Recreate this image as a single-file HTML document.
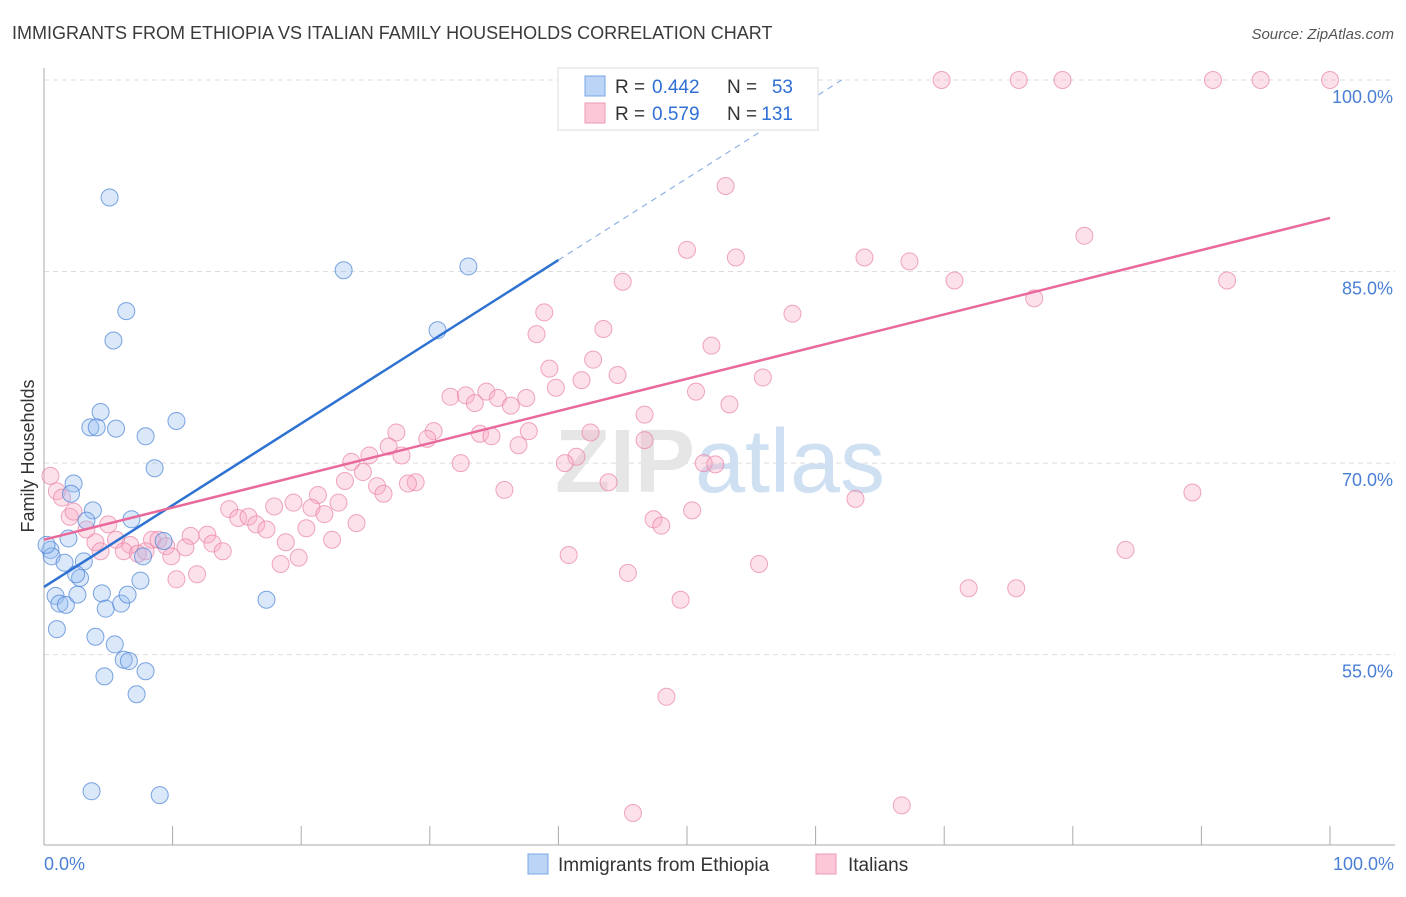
<!DOCTYPE html>
<html><head><meta charset="utf-8"><style>
body{margin:0;background:#fff;font-family:"Liberation Sans",sans-serif;}
svg text{font-family:"Liberation Sans",sans-serif;}
</style></head><body>
<svg id="chart" width="1406" height="892" viewBox="0 0 1406 892" xmlns="http://www.w3.org/2000/svg">
<text x="12" y="39" font-size="18" fill="#3a3a3a">IMMIGRANTS FROM ETHIOPIA VS ITALIAN FAMILY HOUSEHOLDS CORRELATION CHART</text>
<text x="1394" y="39" font-size="15" fill="#555" text-anchor="end" font-style="italic">Source: ZipAtlas.com</text>
<g id="grid"></g>
<text x="720" y="492" font-size="90" text-anchor="middle" fill="#e6e6e6" font-weight="bold">ZIP<tspan fill="#cfe0f3" font-weight="normal">atlas</tspan></text>
<g id="pink"></g>
<g id="blue"></g>
<g id="lines"></g>
<text transform="translate(34,456) rotate(-90)" font-size="18" fill="#333" text-anchor="middle">Family Households</text>
<text x="44" y="870" font-size="18" fill="#4a7fd4">0.0%</text>
<text x="1394" y="870" font-size="18" fill="#4a7fd4" text-anchor="end">100.0%</text>
<g>
<rect x="558" y="68" width="260" height="62" fill="#fff" stroke="#ddd"/>
<rect x="585" y="76" width="20" height="20" fill="#bcd4f5" stroke="#7aa6e6"/>
<rect x="585" y="103" width="20" height="20" fill="#fcc8d8" stroke="#ee9ab5"/>
<text x="615" y="93" font-size="19" fill="#333">R =</text>
<text x="652" y="93" font-size="19" fill="#2f6fd6">0.442</text>
<text x="727" y="93" font-size="19" fill="#333">N =</text>
<text x="793" y="93" font-size="19" fill="#2f6fd6" text-anchor="end">53</text>
<text x="615" y="120" font-size="19" fill="#333">R =</text>
<text x="652" y="120" font-size="19" fill="#2f6fd6">0.579</text>
<text x="727" y="120" font-size="19" fill="#333">N =</text>
<text x="793" y="120" font-size="19" fill="#2f6fd6" text-anchor="end">131</text>
</g>
<g>
<rect x="528" y="854" width="20" height="20" fill="#bcd4f5" stroke="#7aa6e6"/>
<text x="558" y="871" font-size="19" fill="#333">Immigrants from Ethiopia</text>
<rect x="816" y="854" width="20" height="20" fill="#fcc8d8" stroke="#ee9ab5"/>
<text x="848" y="871" font-size="19" fill="#333">Italians</text>
</g>
</svg>
<script>
const yTicks=[100,85,70,55];
const yTickLabels=["100.0%","85.0%","70.0%","55.0%"];
const xTicks=[0,10,20,30,40,50,60,70,80,90,100];
const blueX=[5.1,23.3,33.0,6.4,5.4,30.6,4.4,3.6,4.1,5.6,7.9,10.3,8.6,2.3,2.1,3.8,3.3,6.8,1.9,0.5,0.6,1.6,3.1,2.8,2.5,9.3,7.7,7.5,0.9,1.2,1.7,2.6,4.5,4.8,6.0,6.5,17.3,1.0,4.0,5.5,6.2,6.6,7.9,4.7,7.2,3.7,9.0,0.2];
const blueY=[90.8,85.1,85.4,81.9,79.6,80.4,74.0,72.8,72.8,72.7,72.1,73.3,69.6,68.4,67.6,66.3,65.5,65.6,64.1,63.2,62.7,62.2,62.3,61.0,61.3,63.9,62.7,60.8,59.6,59.0,58.9,59.7,59.8,58.6,59.0,59.7,59.3,57.0,56.4,55.8,54.6,54.5,53.7,53.3,51.9,44.3,44.0,63.6];
const pinkX=[58.8,69.8,75.8,79.2,90.9,94.6,100,53.0,50.0,53.8,63.8,67.3,80.9,70.8,92.0,45.0,77.0,38.9,58.2,43.5,38.3,51.9,42.7,39.3,44.6,41.8,55.9,39.8,50.7,34.4,31.6,32.8,35.3,37.5,33.5,36.3,53.3,46.7,27.4,30.3,33.9,37.7,42.5,29.8,46.7,34.8,26.8,36.9,25.3,27.8,41.4,23.9,32.4,40.5,51.3,52.2,24.8,23.4,28.9,28.3,25.9,26.4,35.8,43.9,63.1,89.3,21.3,19.4,20.8,22.9,17.9,14.4,50.4,15.1,15.9,16.5,17.3,21.8,20.4,24.3,47.4,48.0,11.4,12.7,18.8,22.4,8.4,11.0,13.1,13.9,19.8,84.1,40.8,0.5,1.0,1.4,2.0,2.3,3.3,4.0,4.4,5.6,6.7,6.2,8.9,9.5,7.3,7.9,9.9,5.0,55.6,18.4,11.9,10.3,45.4,71.9,75.6,49.5,48.4,45.8,66.7];
const pinkY=[100,100,100,100,100,100,100,91.7,86.7,86.1,86.1,85.8,87.8,84.3,84.3,84.2,82.9,81.8,81.7,80.5,80.1,79.2,78.1,77.4,76.9,76.5,76.7,75.9,75.6,75.6,75.2,75.3,75.1,75.1,74.7,74.5,74.6,73.8,72.4,72.5,72.3,72.5,72.4,71.9,71.8,72.1,71.3,71.4,70.6,70.6,70.5,70.1,70.0,70.0,70.0,69.9,69.3,68.6,68.5,68.4,68.2,67.6,67.9,68.5,67.2,67.7,67.5,66.9,66.5,66.9,66.6,66.4,66.3,65.7,65.8,65.2,64.8,66.0,64.9,65.3,65.6,65.1,64.3,64.4,63.8,64.0,64.0,63.4,63.7,63.1,62.6,63.2,62.8,69.0,67.8,67.3,65.8,66.2,64.8,63.8,63.1,64.0,63.6,63.1,64.0,63.5,62.9,63.1,62.7,65.2,62.1,62.1,61.3,60.9,61.4,60.2,60.2,59.3,51.7,42.6,43.2];
const blueTrend=[60.3,0.64];
const pinkTrend=[64.0,0.252];
const NS="http://www.w3.org/2000/svg";
const X=v=>44+v*12.86;
const Y=v=>80+(100-v)*12.77;
function mk(t,a,p){const e=document.createElementNS(NS,t);for(const k in a)e.setAttribute(k,a[k]);p.appendChild(e);return e;}
const grid=document.getElementById('grid');
yTicks.forEach((t,i)=>{
 const l=mk('line',{x1:44,x2:1395,y1:Y(t),y2:Y(t),stroke:'#ddd','stroke-dasharray':'5,4'},grid);
 
 
 const tx=mk('text',{x:1393,y:Y(t)+23,'font-size':18,fill:'#4a7fd4','text-anchor':'end'},grid);
 tx.textContent=yTickLabels[i];
 
 
});
const ax=mk('line',{x1:44,x2:44,y1:68,y2:845,stroke:'#aaa'},grid);


const bx=mk('line',{x1:44,x2:1395,y1:845,y2:845,stroke:'#aaa'},grid);


xTicks.forEach(t=>{
 const l=mk('line',{x1:X(t),x2:X(t),y1:826,y2:845,stroke:'#aaa'},grid);
 
 
});
const pg=document.getElementById('pink');
pinkX.forEach((x,i)=>{
 const c=mk('circle',{cx:X(x),cy:Y(pinkY[i]),r:8.5,fill:'rgba(248,170,195,0.35)',stroke:'rgba(232,130,165,0.7)','stroke-width':1},pg);
 
 
});
const bg=document.getElementById('blue');
blueX.forEach((x,i)=>{
 const c=mk('circle',{cx:X(x),cy:Y(blueY[i]),r:8.5,fill:'rgba(150,190,240,0.35)',stroke:'rgba(80,135,215,0.75)','stroke-width':1},bg);
 
 
});
const lg=document.getElementById('lines');
const bl=mk('line',{x1:X(0),y1:Y(blueTrend[0]),x2:X(40),y2:Y(blueTrend[0]+blueTrend[1]*40),stroke:'#2e72d2','stroke-width':2.5},lg);


const xe=(100-blueTrend[0])/blueTrend[1];
const bd=mk('line',{x1:X(40),y1:Y(blueTrend[0]+blueTrend[1]*40),x2:X(xe),y2:Y(100),stroke:'#8fb3e6','stroke-width':1.2,'stroke-dasharray':'6,5'},lg);


const pl=mk('line',{x1:X(0),y1:Y(pinkTrend[0]),x2:X(100),y2:Y(pinkTrend[0]+pinkTrend[1]*100),stroke:'#e8699a','stroke-width':2.5},lg);


</script>
</body></html>
